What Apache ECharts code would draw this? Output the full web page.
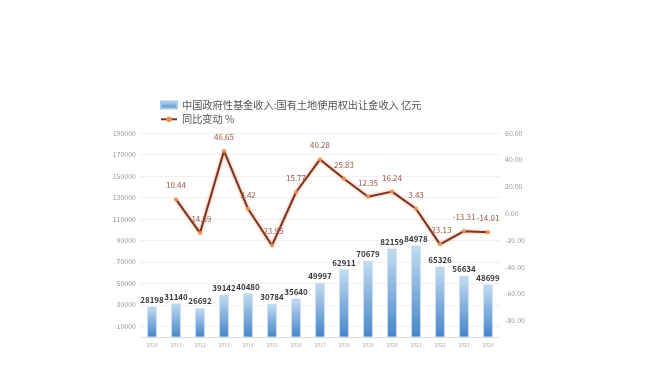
<!DOCTYPE html>
<html>
<head>
<meta charset="utf-8">
<script src="https://cdn.jsdelivr.net/npm/echarts@6/dist/echarts.min.js"></script>
<style>html,body{margin:0;padding:0;background:#fff;}#c{width:650px;height:366px;}</style>
</head>
<body>
<div id="c"></div>
<script>
const years = ['2010','2011','2012','2013','2014','2015','2016','2017','2018','2019','2020','2021','2022','2023','2024'];
const landRevenue = [28198,31140,26692,39142,40480,30784,35640,49997,62911,70679,82159,84978,65326,56634,48699];
const yoyChange = [null,10.44,-14.59,46.65,3.42,-23.95,15.77,40.28,25.83,12.35,16.24,3.43,-23.13,-13.31,-14.01];
const leftTicks = [10000,30000,50000,70000,90000,110000,130000,150000,170000,190000];
const rightTicks = [-80,-60,-40,-20,0,20,40,60];
const barName = '中国政府性基金收入:国有土地使用权出让金收入 亿元';
const lineName = '同比变动 %';

const chart = echarts.init(document.getElementById('c'), null, {renderer:'canvas'});
const font = '"Noto Sans CJK SC", "Noto Sans", sans-serif';
chart.setOption({
  backgroundColor:'#fff',
  animation:false,
  textStyle:{fontFamily:font},
  legend:{
    orient:'vertical', left:155, top:95, itemGap:4, itemWidth:16, itemHeight:7,
    textStyle:{fontSize:10.2, color:'#555', fontFamily:font},
    data:[{name:barName, icon:'rect'},{name:lineName}]
  },
  grid:{left:140, right:150, top:133, bottom:29},
  xAxis:{
    type:'category', data:years,
    axisLine:{lineStyle:{color:'#ddd'}},
    axisTick:{show:false},
    axisLabel:{fontSize:5, color:'#aaa', margin:6}
  },
  yAxis:[{
    type:'value', min:0, max:190000,
    axisLine:{show:false}, axisTick:{show:false, customValues:leftTicks},
    axisLabel:{customValues:leftTicks, fontSize:7, color:'#999', margin:4, formatter:v=>String(v)},
    splitLine:{lineStyle:{color:'#f0f0f0'}}
  },{
    type:'value', min:-92.3, max:60, position:'right',
    axisLine:{show:false}, axisTick:{show:false, customValues:rightTicks},
    axisLabel:{customValues:rightTicks, fontSize:7, color:'#999', margin:5, formatter:v=>v.toFixed(2)},
    splitLine:{show:false}
  }],
  series:[{
    name:barName, type:'bar', data:landRevenue, barWidth:9, yAxisIndex:0,
    itemStyle:{
      color:new echarts.graphic.LinearGradient(0,0,0,1,[{offset:0,color:'#c2dcf2'},{offset:1,color:'#4485c9'}]),
      borderColor:'#a9c9e8', borderWidth:0.5
    },
    label:{show:true, position:'top', fontSize:8, fontWeight:'bold', color:'#3a3a3a', distance:3}
  },{
    name:lineName, type:'line', data:yoyChange, yAxisIndex:1,
    symbol:'circle', symbolSize:4, showSymbol:true,
    lineStyle:{color:'#7a3328', width:2, shadowColor:'rgba(240,140,80,0.9)', shadowBlur:3},
    itemStyle:{color:'#e8924c'},
    label:{show:true, position:'top', fontSize:8, color:'#9a5646', distance:8, formatter:p=>p.value.toFixed(2)}
  }]
});
</script>
</body>
</html>
